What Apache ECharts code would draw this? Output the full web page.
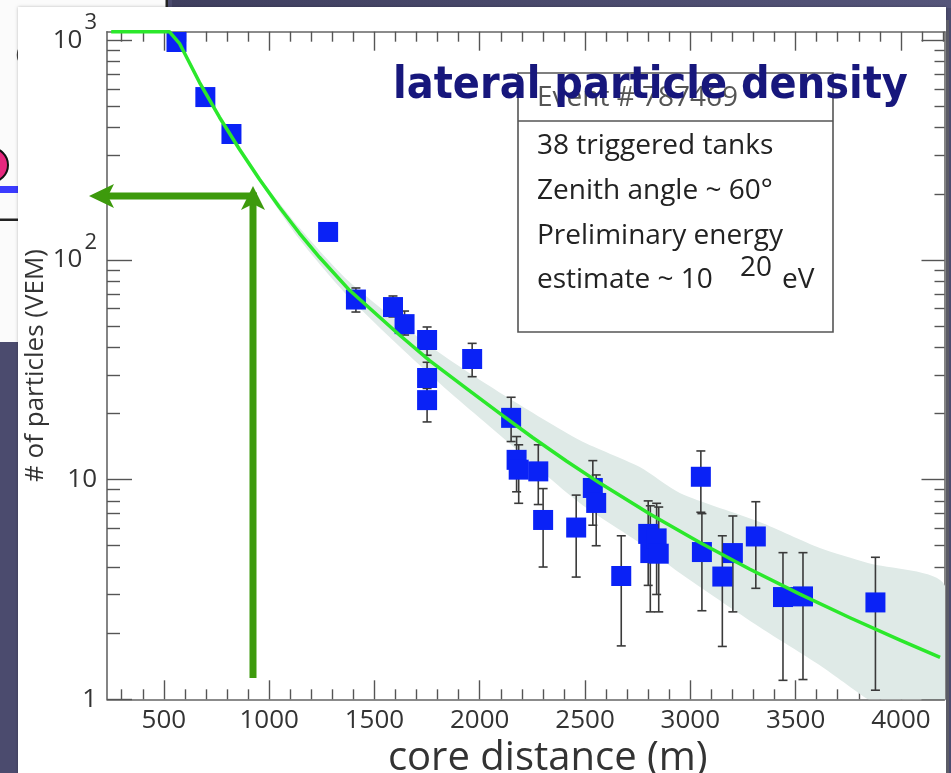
<!DOCTYPE html>
<html>
<head>
<meta charset="utf-8">
<script src="https://cdn.jsdelivr.net/npm/echarts@6/dist/echarts.min.js"></script>
<style>
  html, body { margin: 0; padding: 0; background: #4b4b6e; }
  #chart { width: 951px; height: 773px; }
</style>
</head>
<body>
<div id="chart"></div>
<script>
// ---- axis ticks ----
const xMajorTicks = [500, 1000, 1500, 2000, 2500, 3000, 3500, 4000];
const yMajorTicks = [1, 10, 100, 1000];
const xMinorTicks = [];
for (let v = 300; v <= 4200; v += 100) if (v % 500 !== 0) xMinorTicks.push(v);
const yMinorTicks = [];
[1, 10, 100].forEach(function (dec) { for (let k = 2; k <= 9; k++) yMinorTicks.push(k * dec); });

// ---- measured tank signals: core distance (m), particles (VEM), error range ----
const tankDistance = [560, 697, 821, 1280, 1412, 1588, 1643, 1750, 1750, 1750, 1964, 2149,
  2175, 2185, 2278, 2301, 2458, 2537, 2553, 2672, 2800, 2810, 2840, 2850,
  3050, 3055, 3152, 3202, 3311, 3440, 3535, 3879];
const tankSignal = [981, 551, 374, 134, 66, 61, 51, 43.2, 29, 23, 35.4, 19.1,
  12.3, 11.1, 10.9, 6.55, 6.05, 9.16, 7.83, 3.64, 5.66, 4.63, 5.4, 4.6,
  10.3, 4.68, 3.62, 4.63, 5.51, 2.92, 2.94, 2.76];
const signalLow = [null, null, null, null, 57.9, 55, 45.5, 36.8, 25, 18.3, 29.4, 14.9,
  8.8, 7.8, 7.7, 4.0, 3.6, 6.2, 5.0, 1.75, 3.3, 2.5, 3.0, 2.5,
  7.1, 2.53, 1.74, 2.5, 3.2, 1.22, 1.23, 1.10];
const signalHigh = [null, null, null, null, 74.5, 68.5, 58.5, 49.5, 34.2, 26, 41.7, 23.7,
  15.7, 14.4, 14.4, 9.1, 8.5, 12.2, 10.5, 5.55, 8.0, 7.6, 7.8, 7.5,
  13.5, 7.0, 5.55, 6.83, 7.93, 4.65, 4.65, 4.43];

// ---- lateral distribution fit (flat part runs along the top of the frame) ----
const fitDistance = [250, 526, 574, 669, 764, 859, 954, 1049, 1144, 1239, 1382, 1619, 1762,
  1938, 2095, 2251, 2413, 2570, 2808, 3045, 3283, 3520, 3758, 3996, 4186];
const fitSignal = [1093, 1093, 968, 643, 446, 319, 233, 173.6, 132.2, 102.8, 72.7, 45.5, 34.8,
  25.95, 20.0, 15.55, 12.12, 9.64, 6.97, 5.17, 3.91, 3.01, 2.35, 1.86, 1.553];

// ---- fit uncertainty band ----
const bandDistance = [907, 954, 1144, 1382, 1776, 2128, 2475, 2760, 2950, 3330, 3615, 3843, 4207];
const bandUpper = [278, 238, 140, 79.3, 39.7, 23.8, 15.1, 11.4, 8.69, 6.41, 4.88, 4.17, 3.31];
const bandLower = [278, 228, 124, 67.1, 29.3, 15.0, 7.83, 5.15, 3.76, 2.13, 1.43, 1.0, 0.6];

const FONT = '"Open Sans", "DejaVu Sans", sans-serif';
const TICK_COLOR = '#555';
const X_MIN = 230, X_MAX = 4207, Y_MIN = 1, Y_MAX = 1093;

const tankPoints = tankDistance.map(function (d, i) { return [d, tankSignal[i]]; });
const errorRows = [];
tankDistance.forEach(function (d, i) {
  if (signalLow[i] !== null) errorRows.push([d, signalLow[i], signalHigh[i]]);
});
const fitPoints = fitDistance.map(function (d, i) { return [d, fitSignal[i]]; });

function xAxisDef(position, ticks, len, showLine, withLabels) {
  const ax = {
    type: 'value', min: X_MIN, max: X_MAX, position: position,
    axisLine: { show: showLine, onZero: false, lineStyle: { color: '#666', width: 1.6 } },
    axisTick: { show: true, inside: true, length: len, customValues: ticks,
      lineStyle: { color: TICK_COLOR, width: 1.4 } },
    axisLabel: { show: false },
    splitLine: { show: false }
  };
  if (withLabels) {
    ax.axisLabel = { show: true, customValues: ticks, fontSize: 26, color: '#333',
      fontFamily: FONT, margin: 8, formatter: function (v) { return String(v); } };
    ax.name = 'core distance (m)';
    ax.nameLocation = 'middle';
    ax.nameGap = 39;
    ax.nameTextStyle = { fontSize: 40, color: '#333', fontFamily: FONT, padding: [0, 0, 0, 44] };
  }
  return ax;
}

function yAxisDef(position, ticks, len, showLine, withLabels) {
  const ax = {
    type: 'log', logBase: 10, min: Y_MIN, max: Y_MAX, position: position,
    axisLine: { show: showLine, onZero: false, lineStyle: { color: '#666', width: 1.6 } },
    axisTick: { show: true, inside: true, length: len, customValues: ticks,
      lineStyle: { color: TICK_COLOR, width: 1.4 } },
    axisLabel: { show: false },
    splitLine: { show: false }
  };
  if (withLabels) {
    ax.axisLabel = {
      show: true, customValues: ticks, margin: 10, fontSize: 26, color: '#333', fontFamily: FONT,
      formatter: function (v) {
        if (v >= 1000) return '{b|10}{s|3}';
        if (v >= 100) return '{b|10}{s|2}';
        return String(Math.round(v));
      },
      rich: {
        b: { fontSize: 26, lineHeight: 56, color: '#333', fontFamily: FONT, verticalAlign: 'middle' },
        s: { fontSize: 22, color: '#333', fontFamily: FONT, verticalAlign: 'top', padding: [0, 0, 0, 2] }
      }
    };
    ax.name = '# of particles (VEM)';
    ax.nameLocation = 'middle';
    ax.nameGap = 58;
    ax.nameMoveOverlap = false;
    ax.nameRotate = 90;
    ax.nameTextStyle = { fontSize: 26, color: '#333', fontFamily: FONT };
  }
  return ax;
}

const ARROW = '#3d9a0c';

const option = {
  animation: false,
  backgroundColor: '#4b4b6e',
  grid: { left: 107, right: 6.5, top: 31.7, bottom: 73.7, containLabel: false, outerBoundsMode: 'none' },
  xAxis: [
    xAxisDef('bottom', xMajorTicks, 19, true, true),
    xAxisDef('bottom', xMinorTicks, 10, false, false),
    xAxisDef('top', xMajorTicks, 19, true, false),
    xAxisDef('top', xMinorTicks, 10, false, false)
  ],
  yAxis: [
    yAxisDef('left', yMajorTicks, 25, true, true),
    yAxisDef('left', yMinorTicks, 13, false, false),
    yAxisDef('right', yMajorTicks, 23, true, false),
    yAxisDef('right', yMinorTicks, 10, false, false)
  ],
  graphic: [
    // slide backdrop
    { type: 'rect', z: -20, shape: { x: 172, y: 0, width: 779, height: 8 },
      style: { fill: { type: 'linear', x: 0, y: 0, x2: 1, y2: 0,
        colorStops: [{ offset: 0, color: '#3f3f5f' }, { offset: 1, color: '#55557a' }] } } },
    { type: 'rect', z: -20, shape: { x: 0, y: 0, width: 168, height: 8 }, style: { fill: '#fbfbfb' } },
    { type: 'rect', z: -19, shape: { x: 165.5, y: 0, width: 2.5, height: 8 }, style: { fill: '#222' } },
    { type: 'rect', z: -20, shape: { x: 0, y: 0, width: 20, height: 342 }, style: { fill: '#fbfbfb' } },
    { type: 'circle', z: -19, shape: { cx: 31, cy: 55, r: 13 }, style: { fill: 'none', stroke: '#444', lineWidth: 2.5 } },
    { type: 'circle', z: -19, shape: { cx: -9, cy: 165, r: 17 }, style: { fill: '#e6287e', stroke: '#111', lineWidth: 2 } },
    { type: 'rect', z: -19, shape: { x: 0, y: 186, width: 20, height: 7 }, style: { fill: '#3b3bff' } },
    { type: 'rect', z: -19, shape: { x: 0, y: 218.5, width: 20, height: 2.5 }, style: { fill: '#222' } },
    // white chart panel
    { type: 'rect', z: -15, shape: { x: 18, y: 7, width: 928, height: 770 }, style: { fill: '#ffffff', shadowColor: 'rgba(0,0,0,0.25)', shadowBlur: 3 } },
    { type: 'rect', z: -14, shape: { x: 946, y: 20, width: 3, height: 760 }, style: { fill: '#5c5c66' } },

    // info box
    { type: 'rect', z: 20, shape: { x: 518, y: 73, width: 315, height: 259 },
      style: { fill: '#ffffff', stroke: '#555', lineWidth: 1.6 } },
    { type: 'line', z: 21, shape: { x1: 518, y1: 121, x2: 833, y2: 121 }, style: { stroke: '#555', lineWidth: 1.6 } },
    { type: 'text', z: 21, x: 537, y: 98, style: { text: 'Event # 787469', font: '28px ' + FONT, fill: '#555', verticalAlign: 'middle' } },
    { type: 'text', z: 21, x: 537, y: 146, style: { text: '38 triggered tanks', font: '28px ' + FONT, fill: '#222', verticalAlign: 'middle' } },
    { type: 'text', z: 21, x: 537, y: 191, style: { text: 'Zenith angle ~ 60°', font: '28px ' + FONT, fill: '#222', verticalAlign: 'middle' } },
    { type: 'text', z: 21, x: 537, y: 236, style: { text: 'Preliminary energy', font: '28px ' + FONT, fill: '#222', verticalAlign: 'middle' } },
    { type: 'text', z: 21, x: 537, y: 280, style: { text: 'estimate ~ 10', font: '28px ' + FONT, fill: '#222', verticalAlign: 'middle' } },
    { type: 'text', z: 21, x: 740, y: 268, style: { text: '20', font: '28px ' + FONT, fill: '#222', verticalAlign: 'middle' } },
    { type: 'text', z: 21, x: 782, y: 280, style: { text: 'eV', font: '28px ' + FONT, fill: '#222', verticalAlign: 'middle' } },

    // slide heading
    { type: 'text', z: 30, x: 393, y: 86, scaleY: 1.13, originX: 0, originY: 0,
      style: { text: 'lateral particle density', font: 'bold 40px "DejaVu Sans", sans-serif',
      fill: '#17177c', verticalAlign: 'middle', shadowColor: 'rgba(20,20,30,0.75)', shadowBlur: 12, shadowOffsetX: 6, shadowOffsetY: 10 } },

    // reading arrows
    { type: 'line', z: 25, shape: { x1: 104, y1: 196, x2: 257, y2: 196 }, style: { stroke: ARROW, lineWidth: 7 } },
    { type: 'polygon', z: 25, shape: { points: [[89, 196], [114, 184], [108, 196], [114, 208]] }, style: { fill: ARROW } },
    { type: 'line', z: 25, shape: { x1: 253, y1: 678, x2: 253, y2: 200 }, style: { stroke: ARROW, lineWidth: 7 } },
    { type: 'polygon', z: 25, shape: { points: [[253, 186], [265, 210], [253, 204], [241, 210]] }, style: { fill: ARROW } }
  ],
  series: [
    {
      type: 'custom', name: 'band', z: 1, clip: true,
      data: [[bandDistance[0], bandUpper[0]]],
      renderItem: function (params, api) {
        if (params.dataIndex !== 0) return;
        const up = bandDistance.map(function (d, i) { return api.coord([d, bandUpper[i]]); });
        const lo = bandDistance.map(function (d, i) { return api.coord([d, bandLower[i]]); }).reverse();
        return { type: 'polygon', shape: { points: up.concat(lo), smooth: 0.25 }, style: { fill: '#dfeae7' } };
      }
    },
    {
      type: 'custom', name: 'errors', z: 2, clip: false,
      encode: { x: 0, y: [1, 2] },
      data: errorRows,
      renderItem: function (params, api) {
        const x = api.value(0);
        const a = api.coord([x, api.value(1)]);
        const b = api.coord([x, api.value(2)]);
        const hw = 4.5;
        const st = { stroke: '#3a3a3a', lineWidth: 1.6 };
        return { type: 'group', children: [
          { type: 'line', shape: { x1: a[0], y1: a[1], x2: b[0], y2: b[1] }, style: st },
          { type: 'line', shape: { x1: a[0] - hw, y1: a[1], x2: a[0] + hw, y2: a[1] }, style: st },
          { type: 'line', shape: { x1: b[0] - hw, y1: b[1], x2: b[0] + hw, y2: b[1] }, style: st }
        ] };
      }
    },
    {
      type: 'scatter', name: 'tanks', z: 3, symbol: 'rect', symbolSize: 20,
      itemStyle: { color: '#0a22f6', opacity: 1 },
      data: tankPoints
    },
    {
      type: 'line', name: 'fit', z: 5, showSymbol: false, smooth: false, clip: false,
      lineStyle: { color: '#2be82b', width: 3.5, join: 'round' },
      data: fitPoints
    }
  ]
};

const chart = echarts.init(document.getElementById('chart'), null, { renderer: 'canvas' });
chart.setOption(option);
</script>
</body>
</html>
